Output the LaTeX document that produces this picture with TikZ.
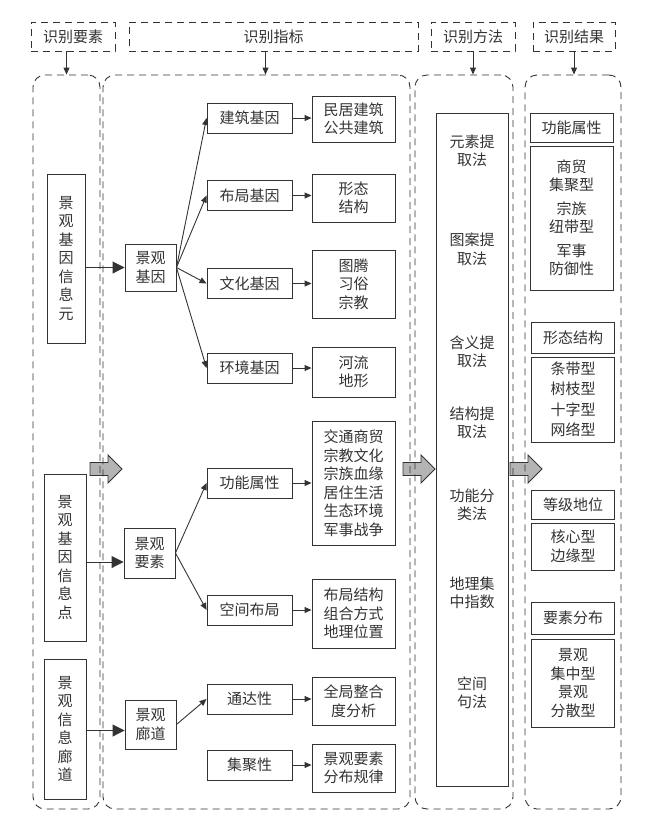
\documentclass[tikz,border=0pt]{standalone}
\usepackage{fontspec}
\setmainfont{Noto Sans CJK SC}
\usetikzlibrary{arrows.meta, calc, positioning}
\definecolor{mLine}{HTML}{333333}
\definecolor{mGray}{HTML}{B4B4B4}
\tikzset{
  hdr/.style={
    draw=mLine, line width=0.9pt, dash pattern=on 7pt off 5pt, minimum height=29pt, inner sep=0pt, text=mLine
  },
  col/.style={
    draw=mLine, line width=0.9pt, dash pattern=on 7pt off 5pt, rounded corners=12pt, minimum height=734pt, inner sep=0pt
  },
  box/.style={
    draw=mLine, line width=0.9pt, align=center, inner sep=0pt, text=mLine
  },
  gene/.style={box, minimum width=85pt, minimum height=30pt},
  item/.style={box, minimum width=83pt},
  meth/.style={align=center, inner sep=0pt, text=mLine},
  arr/.style={draw=mLine, line width=0.9pt, -{Triangle[length=7pt,width=6pt]}},
  bigarr/.style={draw=mLine, line width=0.9pt, -{Triangle[length=12pt,width=12pt]}},
  grayarr/.style={draw=mLine, line width=0.9pt, fill=mGray}
}
\newcommand{\grayarrow}[2]{%
  \draw[grayarr] (#1,#2) ++(0,-6.5) -- ++(18,0) -- ++(0,-7.5) -- ++(14,14) -- ++(-14,14) -- ++(0,-7.5) -- ++(-18,0) -- cycle;}

\begin{document}
\begin{tikzpicture}[x=1pt, y=-1pt, font=\fontsize{15}{18.5}\selectfont]
    \useasboundingbox (0,0) rectangle (650,823);
    % block arrows between the columns
    \grayarrow{90}{469}
    \grayarrow{403}{469}
    \grayarrow{510}{469}
    % headers
    \node[hdr, minimum width=84pt] (h1) at (73,36.5) {识别要素};
    \node[hdr, minimum width=289pt] (h2) at (273.5,36.5) {识别指标};
    \node[hdr, minimum width=84pt] (h3) at (473,36.5) {识别方法};
    \node[hdr, minimum width=82pt] (h4) at (574,36.5) {识别结果};
    % columns
    \node[col, minimum width=67pt] (c1) at (66.5,442) {};
    \node[col, minimum width=307pt] (c2) at (256.5,442) {};
    \node[col, minimum width=98pt] (c3) at (464,442) {};
    \node[col, minimum width=96pt] (c4) at (573,442) {};
    \draw[arr] (h1.south -| c1.north) -- (c1.north);
    \draw[arr] ([xshift=-8pt]h2.south) -- ([xshift=-8pt]h2.south |- c2.north);
    \draw[arr] (h3.south) -- (h3.south |- c3.north);
    \draw[arr] (h4.south) -- (h4.south |- c4.north);
    % identification elements
    \node[box, minimum width=38pt, minimum height=169pt] (e1) at (66,258.5) {景\\观\\基\\因\\信\\息\\元};
    \node[box, minimum width=42pt, minimum height=167pt] (e2) at (65,557.5) {景\\观\\基\\因\\信\\息\\点};
    \node[box, minimum width=42pt, minimum height=140pt] (e3) at (65,729) {景\\观\\信\\息\\廊\\道};
    % indicators
    \node[box, minimum width=51pt, minimum height=47pt] (g0) at (150.5,267.5) {景观\\基因};
    \node[box, minimum width=51pt, minimum height=50pt] (s0) at (149.5,553) {景观\\要素};
    \node[box, minimum width=51pt, minimum height=49pt] (l0) at (150.5,724.5) {景观\\廊道};
    \coordinate (s0in) at ([yshift=-9pt]s0.west);
    \coordinate (l0in) at ([yshift=-6pt]l0.west);
    \draw[bigarr] (e1.east |- g0.west) -- (g0.west);
    \draw[bigarr] (e2.east |- s0in) -- (s0in);
    \draw[bigarr] (e3.east |- l0in) -- (l0in);

    \node[gene] (g1) at (249.5,118) {建筑基因};
    \node[gene] (g2) at (249.5,195.5) {布局基因};
    \node[gene] (g3) at (249.5,283.5) {文化基因};
    \node[gene] (g4) at (249.5,368) {环境基因};
    \node[gene] (s1) at (249.5,483) {功能属性};
    \node[gene] (s2) at (249.5,610) {空间布局};
    \node[gene] (l1) at (249.5,699) {通达性};
    \node[gene] (l2) at (249.5,765) {集聚性};

    \node[item, minimum height=46pt] (g1t) at (353.5,119) {民居建筑\\公共建筑};
    \node[item, minimum height=48pt] (g2t) at (353.5,198) {形态\\结构};
    \node[item, minimum height=68pt] (g3t) at (353.5,284) {图腾\\习俗\\宗教};
    \node[item, minimum height=50pt] (g4t) at (353.5,372) {河流\\地形};
    \node[item, minimum height=124pt] (s1t) at (353.5,483) {交通商贸\\宗教文化\\宗族血缘\\居住生活\\生态环境\\军事战争};
    \node[item, minimum height=69pt] (s2t) at (353.5,613.5) {布局结构\\组合方式\\地理位置};
    \node[item, minimum height=48pt] (l1t) at (353.5,701) {全局整合\\度分析};
    \node[item, minimum height=48pt] (l2t) at (353.5,768) {景观要素\\分布规律};

    \foreach \a in {g1,g2,g3,g4} \draw[arr] (g0.east) -- (\a.west);
    \foreach \a in {s1,s2} \draw[arr] (s0.east) -- (\a.west);
    \draw[arr] (l0.east) -- (l1.west);
    \foreach \a in {g1,g2,g3,g4,s1,s2,l1,l2} \draw[arr] (\a.east) -- (\a.east -| \a t.west);
    % methods
    \node[box, minimum width=72pt, minimum height=673pt] (mb) at (472,449.5) {};
    \node[meth] (m1) at (472,151) {元素提\\取法};
    \node[meth] (m2) at (472,249) {图案提\\取法};
    \node[meth] (m3) at (472,352) {含义提\\取法};
    \node[meth] (m4) at (472,423) {结构提\\取法};
    \node[meth] (m5) at (472,505) {功能分\\类法};
    \node[meth] (m6) at (472,593) {地理集\\中指数};
    \node[meth] (m7) at (472,693) {空间\\句法};
    % results
    \node[item, minimum height=29pt] (r1) at (571.5,127.5) {功能属性};
    \node[item, minimum height=144pt] (r1t) at (571.5,218) {商贸\\集聚型\\[5pt]宗族\\纽带型\\[5pt]军事\\防御性};
    \node[item, minimum height=31pt] (r2) at (573,337.5) {形态结构};
    \node[item, minimum height=85pt] (r2t) at (573,399.5) {条带型\\[2pt]树枝型\\[2pt]十字型\\[2pt]网络型};
    \node[item, minimum height=29pt] (r3) at (573,504.5) {等级地位};
    \node[item, minimum height=47pt] (r3t) at (573,546.5) {核心型\\边缘型};
    \node[item, minimum height=32pt] (r4) at (573,618) {要素分布};
    \node[item, minimum height=88pt] (r4t) at (573,683) {景观\\集中型\\景观\\分散型};
\end{tikzpicture}
\end{document}
